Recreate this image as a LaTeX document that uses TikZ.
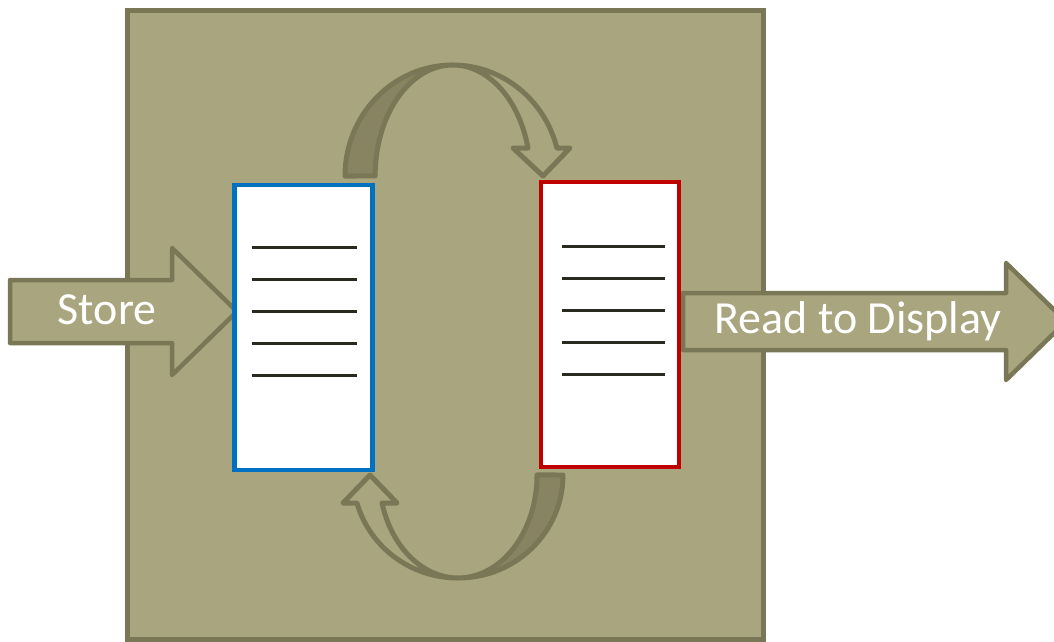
\documentclass[tikz,border=0pt]{standalone}
\usepackage{fontspec}
\setmainfont{Carlito}
\usepackage{tikz}

\definecolor{khaki}{RGB}{169,165,126}
\definecolor{khakiedge}{RGB}{122,119,87}
\definecolor{khakidark}{RGB}{136,132,98}
\definecolor{bufblue}{RGB}{0,112,192}
\definecolor{bufred}{RGB}{192,0,0}
\definecolor{ink}{RGB}{43,42,32}

\begin{document}
\begin{tikzpicture}[x=1pt,y=-1pt,
    blockarrow/.style={fill=khaki,draw=khakiedge,line width=4.5pt,line join=round},
    curvearrow/.style={draw=khakiedge,line width=5pt,line join=round},
    buffer/.style={fill=white,line width=4.5pt,minimum width=138pt,minimum height=285pt,inner sep=0pt},
    bufline/.style={draw=ink,line width=3pt},
    arrowtext/.style={text=white,font=\fontsize{46}{50}\selectfont,anchor=base}]
\useasboundingbox (0,0) rectangle (1054,641);
\clip (0,0) rectangle (1054,641);

%the display controller box behind everything
\draw[fill=khaki,draw=khakiedge,line width=5pt] (127,10) rectangle (763,639);

%write side and read side block arrows
\draw[blockarrow] (10,280) -- (172,280) -- (172,248) -- (237,311.5) -- (172,375) -- (172,343) -- (10,343) -- cycle;
\node[arrowtext] (store) at (107,324) {Store};

\draw[blockarrow] (683,293) -- (1006,293) -- (1006,263) -- (1066,321.5) -- (1006,380) -- (1006,350) -- (683,350) -- cycle;
\node[arrowtext] (readout) at (858,333) {Read to Display};

%the two frame buffers, each with its lines of data
\node[buffer,draw=bufblue] (front) at (303.5,327.5) {};
\node[buffer,draw=bufred] (back) at (610,324.5) {};

\foreach \dy in {65,97,129,161,193}
    \draw[bufline] ([xshift=-51.5pt,yshift=-\dy pt]front.north) -- ++(105,0);
\foreach \dy in {67,99,131,163,195}
    \draw[bufline] ([xshift=-48pt,yshift=-\dy pt]back.north) -- ++(103,0);

%swap arrow over the top: dark back face first, then the outline
\fill[khakidark] (345,176) arc[start angle=180,end angle=270,x radius=107.7,y radius=111]
    arc[start angle=270,end angle=180,x radius=77.7,y radius=111] -- cycle;
\draw[curvearrow] (345,176) arc[start angle=180,end angle=345.4,x radius=107.7,y radius=111]
    -- (570,148) -- (543,176) -- (513,148) -- (528,148)
    arc[start angle=345.4,end angle=180,x radius=77.7,y radius=111] -- cycle;

%swap arrow underneath, same idea turned round
\fill[khakidark] (563,475) arc[start angle=0,end angle=90,x radius=105,y radius=103]
    arc[start angle=90,end angle=0,x radius=79,y radius=103] -- cycle;
\draw[curvearrow] (563,475) arc[start angle=0,end angle=164.2,x radius=105,y radius=103]
    -- (343,503) -- (370,475) -- (397,503) -- (382,503)
    arc[start angle=164.2,end angle=0,x radius=79,y radius=103] -- cycle;
\end{tikzpicture}
\end{document}
